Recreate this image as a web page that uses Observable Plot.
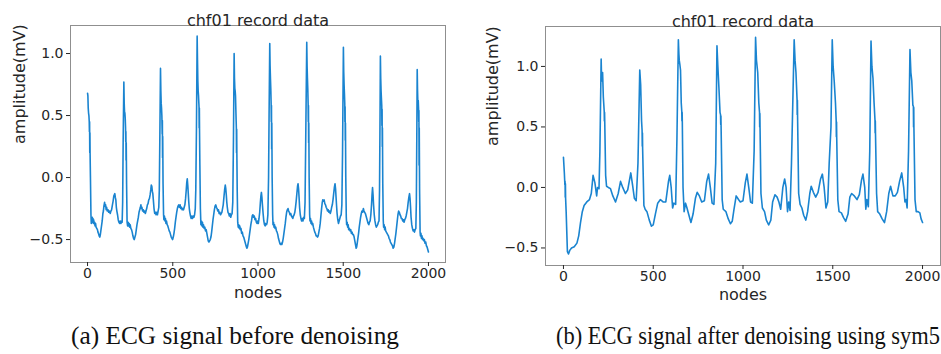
<!DOCTYPE html>
<html><head><meta charset="utf-8">
<script src="https://cdn.jsdelivr.net/npm/d3@7"></script>
<script src="https://cdn.jsdelivr.net/npm/@observablehq/plot@0.6"></script>
<style>
body{margin:0;background:#fff;}
#wrap{position:relative;width:941px;height:354px;overflow:hidden;background:#fff;}
.panel{position:absolute;top:0;}
.cap{position:absolute;top:322px;font-family:"Liberation Serif","Times New Roman",serif;font-size:25px;color:#111;white-space:nowrap;line-height:28px;transform-origin:50% 50%;}
</style></head><body>
<div id="wrap">
<div id="a" class="panel" style="left:0"></div>
<div id="b" class="panel" style="left:470px"></div>
<div class="cap" id="capA" style="left:235px"></div>
<div class="cap" id="capB" style="left:748px"></div>
</div>
<script>
// ---- data (node, amplitude mV) ----
const signalBefore = [
[0,0.68],[2,0.66],[4,0.56],[6,0.52],[8,0.50],[10,0.45],[11,0.37],[12,0.45],[13,0.2],[14,0.36],[15,0.19],[17,0.0],[20,-0.3],[22,-0.37],[24,-0.33],[26,-0.36],[28,-0.32],[30,-0.35],[32,-0.33],[34,-0.37],[36,-0.34],[38,-0.37],[41,-0.36],[44,-0.39],[47,-0.37],[50,-0.40],[54,-0.41],[58,-0.42],[61,-0.44],[64,-0.45],[68,-0.47],[72,-0.48],[75,-0.46],[79,-0.42],[83,-0.38],[86,-0.35],[90,-0.29],[93,-0.27],[96,-0.23],[100,-0.20],[103,-0.23],[106,-0.22],[109,-0.26],[112,-0.24],[116,-0.27],[120,-0.26],[124,-0.28],[128,-0.27],[133,-0.29],[137,-0.27],[141,-0.26],[146,-0.22],[150,-0.19],[154,-0.15],[157,-0.14],[160,-0.13],[163,-0.16],[166,-0.18],[169,-0.24],[172,-0.27],[176,-0.30],[180,-0.34],[184,-0.36],[188,-0.37],[192,-0.35],[196,-0.37],[200,-0.35],[203,-0.36],[206,-0.2],[209,0.3],
[213,0.77],[215,0.6],[217,0.53],[219,0.52],[221,0.48],[223,0.40],[224,0.29],[225,0.37],[226,0.14],[227,0.28],[229,-0.05],[232,-0.36],[235,-0.39],[238,-0.36],[241,-0.39],[244,-0.37],[247,-0.40],[250,-0.38],[254,-0.41],[258,-0.42],[262,-0.44],[266,-0.47],[270,-0.49],[274,-0.50],[278,-0.48],[282,-0.46],[286,-0.42],[290,-0.38],[294,-0.35],[298,-0.32],[302,-0.28],[306,-0.26],[310,-0.24],[313,-0.22],[316,-0.25],[319,-0.24],[323,-0.27],[327,-0.26],[331,-0.28],[335,-0.27],[339,-0.29],[343,-0.27],[347,-0.25],[351,-0.22],[355,-0.21],[359,-0.18],[363,-0.17],[367,-0.14],[371,-0.10],[374,-0.06],[377,-0.07],[380,-0.11],[383,-0.13],[386,-0.18],[390,-0.25],[394,-0.29],[398,-0.28],[402,-0.30],[406,-0.28],[410,-0.30],[414,-0.27],[418,-0.24],[421,-0.1],[424,0.3],
[428,0.88],[430,0.7],[432,0.6],[434,0.56],[436,0.5],[438,0.35],[439,0.46],[440,0.16],[441,0.33],[443,-0.05],[446,-0.3],[448,-0.34],[451,-0.31],[454,-0.35],[457,-0.33],[460,-0.37],[463,-0.35],[467,-0.38],[471,-0.39],[475,-0.41],[479,-0.43],[483,-0.44],[487,-0.46],[491,-0.48],[495,-0.49],[499,-0.50],[503,-0.48],[507,-0.45],[511,-0.41],[515,-0.36],[519,-0.32],[523,-0.28],[527,-0.25],[531,-0.23],[535,-0.22],[539,-0.24],[543,-0.22],[547,-0.25],[551,-0.24],[555,-0.26],[559,-0.25],[563,-0.26],[567,-0.24],[571,-0.22],[575,-0.17],[579,-0.1],[582,-0.04],[585,-0.01],[588,-0.06],[591,-0.13],[594,-0.2],[597,-0.25],[600,-0.28],[604,-0.31],[608,-0.33],[612,-0.31],[616,-0.33],[620,-0.31],[624,-0.32],[628,-0.3],[632,-0.25],[635,-0.1],[639,0.4],
[643,1.14],[645,0.95],[647,0.78],[649,0.7],[651,0.66],[653,0.6],[654,0.57],[655,0.40],[656,0.56],[657,0.37],[659,0.1],[662,-0.25],[665,-0.38],[668,-0.35],[671,-0.39],[674,-0.36],[677,-0.40],[680,-0.38],[684,-0.41],[688,-0.40],[692,-0.43],[696,-0.42],[700,-0.45],[704,-0.48],[708,-0.51],[712,-0.52],[716,-0.51],[720,-0.50],[724,-0.48],[728,-0.44],[732,-0.39],[736,-0.34],[740,-0.30],[744,-0.26],[748,-0.23],[752,-0.22],[756,-0.24],[760,-0.25],[764,-0.27],[768,-0.26],[772,-0.29],[776,-0.28],[780,-0.30],[784,-0.29],[788,-0.28],[792,-0.25],[796,-0.22],[800,-0.16],[804,-0.1],[808,-0.06],[811,-0.09],[814,-0.14],[817,-0.2],[820,-0.24],[824,-0.28],[828,-0.29],[832,-0.31],[836,-0.29],[840,-0.32],[844,-0.30],[848,-0.29],[852,-0.2],[856,0.3],
[860,1.0],[862,0.8],[864,0.72],[866,0.7],[868,0.66],[870,0.55],[872,0.45],[873,0.4],[874,0.2],[875,0.39],[876,0.19],[878,-0.1],[881,-0.36],[884,-0.40],[887,-0.38],[890,-0.41],[893,-0.39],[896,-0.42],[900,-0.41],[904,-0.45],[908,-0.44],[912,-0.47],[916,-0.48],[920,-0.50],[924,-0.52],[928,-0.54],[932,-0.56],[935,-0.57],[938,-0.56],[942,-0.53],[946,-0.50],[950,-0.46],[954,-0.42],[958,-0.38],[962,-0.35],[966,-0.31],[970,-0.30],[974,-0.32],[978,-0.31],[982,-0.34],[986,-0.33],[990,-0.36],[994,-0.37],[998,-0.35],[1002,-0.37],[1006,-0.33],[1010,-0.28],[1014,-0.2],[1017,-0.15],[1020,-0.12],[1023,-0.16],[1026,-0.22],[1030,-0.29],[1034,-0.35],[1038,-0.38],[1042,-0.39],[1046,-0.37],[1050,-0.38],[1054,-0.36],[1058,-0.3],[1062,0.0],[1065,0.5],
[1069,1.08],[1071,0.9],[1073,0.8],[1075,0.72],[1077,0.6],[1078,0.45],[1079,0.58],[1080,0.23],[1081,0.44],[1083,0.0],[1086,-0.3],[1088,-0.38],[1091,-0.36],[1094,-0.40],[1097,-0.38],[1100,-0.41],[1104,-0.40],[1108,-0.43],[1112,-0.44],[1116,-0.46],[1120,-0.49],[1124,-0.51],[1128,-0.53],[1132,-0.54],[1136,-0.53],[1140,-0.54],[1144,-0.52],[1148,-0.49],[1152,-0.45],[1156,-0.41],[1160,-0.37],[1164,-0.32],[1168,-0.28],[1172,-0.26],[1176,-0.25],[1180,-0.27],[1184,-0.28],[1188,-0.30],[1192,-0.29],[1196,-0.31],[1200,-0.32],[1204,-0.33],[1208,-0.31],[1212,-0.30],[1216,-0.28],[1220,-0.24],[1224,-0.19],[1228,-0.13],[1232,-0.07],[1235,-0.05],[1238,-0.09],[1241,-0.16],[1244,-0.24],[1248,-0.3],[1252,-0.33],[1256,-0.35],[1260,-0.33],[1264,-0.35],[1268,-0.32],[1272,-0.33],[1276,-0.2],[1280,0.3],
[1286,1.09],[1288,0.9],[1290,0.8],[1292,0.72],[1294,0.6],[1295,0.45],[1296,0.58],[1297,0.28],[1298,0.44],[1300,0.0],[1303,-0.3],[1305,-0.35],[1308,-0.33],[1311,-0.37],[1314,-0.35],[1317,-0.38],[1321,-0.37],[1325,-0.40],[1329,-0.42],[1333,-0.44],[1337,-0.45],[1341,-0.47],[1345,-0.47],[1349,-0.48],[1353,-0.47],[1357,-0.44],[1361,-0.41],[1365,-0.37],[1369,-0.31],[1373,-0.25],[1377,-0.2],[1380,-0.18],[1384,-0.19],[1388,-0.18],[1392,-0.21],[1396,-0.22],[1400,-0.24],[1404,-0.25],[1408,-0.27],[1412,-0.26],[1416,-0.28],[1420,-0.27],[1424,-0.29],[1428,-0.27],[1432,-0.24],[1436,-0.22],[1440,-0.18],[1444,-0.13],[1448,-0.08],[1452,-0.05],[1455,-0.09],[1458,-0.16],[1461,-0.23],[1464,-0.29],[1468,-0.34],[1472,-0.37],[1476,-0.35],[1480,-0.33],[1484,-0.31],[1488,-0.30],[1492,-0.22],[1496,0.2],
[1501,1.05],[1503,0.85],[1505,0.75],[1507,0.68],[1509,0.6],[1510,0.45],[1511,0.57],[1512,0.3],[1513,0.44],[1515,0.0],[1518,-0.32],[1520,-0.38],[1523,-0.36],[1526,-0.40],[1529,-0.38],[1532,-0.42],[1536,-0.41],[1540,-0.43],[1544,-0.42],[1548,-0.45],[1552,-0.44],[1556,-0.46],[1560,-0.46],[1564,-0.48],[1568,-0.51],[1572,-0.54],[1576,-0.57],[1579,-0.56],[1582,-0.53],[1586,-0.49],[1590,-0.45],[1594,-0.40],[1598,-0.36],[1602,-0.32],[1606,-0.29],[1610,-0.27],[1614,-0.28],[1618,-0.25],[1622,-0.27],[1626,-0.28],[1630,-0.29],[1634,-0.31],[1638,-0.33],[1642,-0.35],[1646,-0.37],[1650,-0.38],[1654,-0.36],[1658,-0.35],[1662,-0.30],[1666,-0.22],[1669,-0.14],[1672,-0.08],[1675,-0.14],[1678,-0.22],[1682,-0.3],[1686,-0.35],[1690,-0.38],[1694,-0.40],[1698,-0.39],[1702,-0.38],[1706,-0.36],[1710,-0.35],[1713,-0.1],[1716,0.5],
[1718,0.98],[1720,0.8],[1722,0.7],[1724,0.64],[1726,0.58],[1727,0.42],[1728,0.55],[1729,0.25],[1730,0.4],[1732,-0.05],[1735,-0.35],[1737,-0.40],[1740,-0.38],[1743,-0.42],[1746,-0.40],[1749,-0.43],[1753,-0.44],[1757,-0.45],[1761,-0.46],[1765,-0.47],[1769,-0.49],[1773,-0.50],[1777,-0.52],[1781,-0.53],[1785,-0.54],[1789,-0.55],[1793,-0.57],[1797,-0.56],[1801,-0.53],[1805,-0.49],[1809,-0.45],[1813,-0.40],[1817,-0.35],[1821,-0.30],[1825,-0.27],[1829,-0.28],[1833,-0.30],[1837,-0.31],[1841,-0.33],[1845,-0.33],[1849,-0.35],[1853,-0.34],[1857,-0.36],[1861,-0.34],[1865,-0.33],[1869,-0.31],[1873,-0.28],[1877,-0.25],[1881,-0.2],[1885,-0.16],[1889,-0.13],[1892,-0.17],[1895,-0.24],[1898,-0.32],[1902,-0.38],[1906,-0.41],[1910,-0.43],[1914,-0.42],[1918,-0.44],[1922,-0.42],[1926,-0.41],[1929,-0.2],[1932,0.4],
[1934,0.87],[1936,0.7],[1938,0.6],[1940,0.62],[1942,0.55],[1943,0.45],[1944,0.54],[1945,0.1],[1946,0.4],[1948,-0.1],[1951,-0.44],[1953,-0.47],[1956,-0.45],[1959,-0.49],[1962,-0.47],[1965,-0.50],[1968,-0.49],[1972,-0.51],[1976,-0.50],[1980,-0.53],[1984,-0.52],[1988,-0.55],[1992,-0.56],[1996,-0.58],[2000,-0.60]
];
const signalAfter = [
[0,0.25],[5,0.12],[8,0.02],[9,0.05],[10,-0.08],[11,0.03],[12,-0.09],[15,-0.2],[22,-0.53],[28,-0.55],[35,-0.52],[45,-0.50],[60,-0.49],[75,-0.46],[85,-0.40],[95,-0.29],[105,-0.20],[115,-0.15],[130,-0.12],[145,-0.10],[155,-0.05],[165,0.10],[175,0.04],[185,-0.07],[190,0.0],[198,-0.01],[203,0.3],
[210,1.06],[212,0.92],[213,0.88],[215,0.94],[218,0.95],[222,0.75],[227,0.63],[228,0.55],[229,0.62],[230,0.54],[235,0.1],[240,0.01],[250,0.0],[262,-0.01],[275,-0.07],[290,-0.12],[305,-0.05],[318,0.05],[330,0.0],[345,-0.05],[358,-0.02],[375,0.12],[385,0.02],[395,-0.09],[405,-0.11],[415,0.2],
[425,0.97],[430,0.85],[435,0.55],[438,0.47],[439,0.34],[440,0.45],[441,0.32],[448,-0.15],[455,-0.18],[465,-0.20],[478,-0.27],[490,-0.32],[500,-0.31],[512,-0.22],[525,-0.13],[540,-0.10],[555,-0.12],[570,-0.12],[585,0.05],[592,0.10],[600,0.0],[608,-0.17],[615,-0.13],[625,-0.14],[632,0.4],
[640,1.22],[643,1.1],[645,1.05],[648,1.02],[652,0.97],[656,0.70],[659,0.63],[660,0.55],[661,0.62],[662,0.54],[666,0.0],[672,-0.2],[680,-0.13],[688,-0.17],[697,-0.22],[710,-0.29],[722,-0.22],[735,-0.09],[745,-0.04],[757,-0.07],[770,-0.12],[785,-0.11],[798,0.05],[808,0.11],[818,0.0],[828,-0.13],[838,-0.14],[848,0.2],
[855,1.17],[860,1.0],[866,0.82],[872,0.62],[875,0.6],[876,0.52],[877,0.59],[878,0.5],[884,-0.1],[890,-0.18],[905,-0.20],[918,-0.26],[930,-0.3],[940,-0.28],[950,-0.18],[962,-0.07],[975,-0.1],[985,-0.12],[1000,-0.11],[1013,0.04],[1022,0.11],[1032,0.0],[1042,-0.12],[1052,-0.13],[1062,0.3],
[1070,1.24],[1075,1.05],[1082,0.95],[1088,0.7],[1092,0.62],[1093,0.5],[1094,0.61],[1095,0.49],[1100,-0.05],[1108,-0.17],[1120,-0.2],[1130,-0.27],[1143,-0.31],[1155,-0.27],[1165,-0.12],[1178,-0.06],[1190,-0.08],[1200,-0.12],[1210,-0.18],[1222,0.0],[1232,0.07],[1240,0.0],[1248,-0.2],[1255,-0.12],[1262,-0.19],[1270,0.2],
[1285,1.22],[1290,1.05],[1295,0.95],[1301,0.73],[1302,0.6],[1303,0.72],[1304,0.58],[1310,-0.05],[1318,-0.14],[1328,-0.17],[1338,-0.23],[1350,-0.27],[1360,-0.2],[1372,-0.05],[1380,0.01],[1392,-0.04],[1405,-0.08],[1418,-0.04],[1432,0.07],[1442,0.11],[1452,0.0],[1462,-0.17],[1472,-0.12],[1480,0.2],[1490,0.5],
[1497,1.22],[1502,1.0],[1508,0.88],[1515,0.7],[1519,0.55],[1520,0.42],[1521,0.54],[1522,0.41],[1528,-0.1],[1535,-0.2],[1548,-0.21],[1560,-0.25],[1572,-0.28],[1585,-0.22],[1595,-0.08],[1605,-0.05],[1620,-0.07],[1635,-0.1],[1648,-0.06],[1660,0.06],[1668,0.11],[1678,0.0],[1684,-0.18],[1690,-0.1],[1698,-0.16],[1706,0.3],
[1713,1.21],[1718,1.0],[1724,0.9],[1730,0.7],[1735,0.56],[1736,0.45],[1737,0.55],[1738,0.44],[1744,-0.05],[1750,-0.2],[1762,-0.22],[1775,-0.26],[1788,-0.29],[1800,-0.2],[1812,-0.05],[1822,0.01],[1835,-0.07],[1848,-0.07],[1860,-0.04],[1872,0.05],[1884,0.12],[1895,0.0],[1902,-0.12],[1908,-0.1],[1914,-0.17],[1922,0.3],
[1930,1.14],[1935,0.95],[1940,0.88],[1946,0.68],[1949,0.67],[1950,0.5],[1951,0.66],[1952,0.49],[1958,-0.1],[1965,-0.2],[1975,-0.2],[1985,-0.21],[1992,-0.26],[2000,-0.29]
];
const xTicks = [0, 500, 1000, 1500, 2000];
const yTicks = [-0.5, 0.0, 0.5, 1.0];
const panelTitle = "chf01 record data";
const xLabel = "nodes";
const yLabel = "amplitude(mV)";
const captions = ["(a) ECG signal before denoising", "(b) ECG signal after denoising using sym5"];
const lineColor = "#1a84d0";

function panel(data, o) {
  return Plot.plot({
    width: o.width, height: o.height,
    marginLeft: o.ml, marginRight: o.mr, marginTop: o.mt, marginBottom: o.mb,
    style: {fontFamily: "'DejaVu Sans', sans-serif", fontSize: "14px", color: "#262626", background: "white", overflow: "visible"},
    x: {domain: [-100, 2100]},
    y: {domain: o.yDomain},
    marks: [
      Plot.frame({stroke: "#8f8f8f"}),
      Plot.axisX({ticks: xTicks, tickSize: 4, tickPadding: 2, fontSize: 14, label: null, tickFormat: d3.format("d")}),
      Plot.axisY({ticks: yTicks, tickSize: 4, tickPadding: 3, fontSize: 14, label: null, tickFormat: d3.format(".1f")}),
      Plot.line(data, {x: d => d[0], y: d => d[1], stroke: lineColor, strokeWidth: 1.6}),
      Plot.text([panelTitle], {frameAnchor: "top", dy: o.tDy, fontSize: 16}),
      Plot.text([xLabel], {frameAnchor: "bottom", dy: o.xlDy, fontSize: 16}),
      Plot.text([yLabel], {frameAnchor: "left", dx: o.ylDx, rotate: -90, fontSize: 16})
    ]
  });
}

document.getElementById("a").append(panel(signalBefore, {width: 470, height: 306, ml: 70, mr: 25, mt: 25, mb: 44, yDomain: [-0.685, 1.226], tDy: -11, xlDy: 35, ylDx: -51}));
document.getElementById("b").append(panel(signalAfter, {width: 471, height: 308, ml: 75, mr: 1, mt: 26, mb: 43, yDomain: [-0.645, 1.33], tDy: -11, xlDy: 34, ylDx: -53}));

const capTargets = [328, 384];
["capA", "capB"].forEach((id, i) => {
  const el = document.getElementById(id);
  el.textContent = captions[i];
  const w = el.getBoundingClientRect().width;
  el.style.transform = `translateX(-50%) scaleX(${capTargets[i] / w})`;
});
</script>
</body></html>
